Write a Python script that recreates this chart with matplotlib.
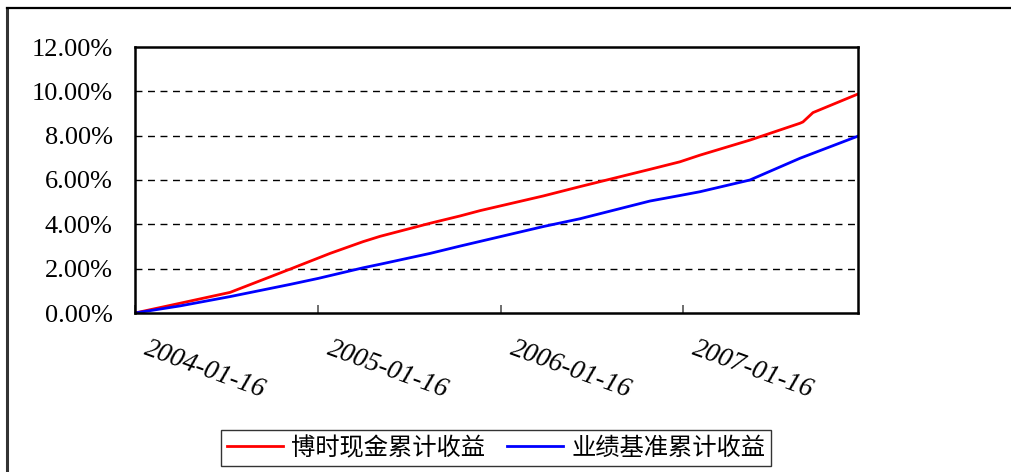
import matplotlib
matplotlib.use("Agg")
import matplotlib.pyplot as plt
import matplotlib.transforms as mtransforms
from matplotlib.lines import Line2D
import numpy as np
import pandas as pd

# ---- data ----
fund_dates = ["2004-01-16", "2004-04-15", "2004-07-24", "2004-11-21", "2005-02-09",
              "2005-04-16", "2005-05-20", "2005-08-28", "2005-10-27", "2005-12-06",
              "2006-04-11", "2006-06-23", "2006-11-10", "2007-01-09", "2007-02-18",
              "2007-05-29", "2007-09-06", "2007-09-12", "2007-10-02", "2007-12-31"]
fund_values = [0.00, 0.44, 0.93, 1.98, 2.69,
               3.22, 3.46, 4.05, 4.38, 4.62,
               5.28, 5.70, 6.48, 6.82, 7.12,
               7.80, 8.56, 8.62, 9.04, 9.88]

bench_dates = ["2004-01-16", "2004-04-15", "2004-07-24", "2004-11-21", "2005-01-16",
               "2005-04-16", "2005-05-20", "2005-08-28", "2005-10-27", "2006-04-11",
               "2006-06-23", "2006-11-10", "2007-01-09", "2007-02-18", "2007-05-29",
               "2007-09-06", "2007-12-31"]
bench_values = [0.00, 0.32, 0.74, 1.29, 1.56,
                2.04, 2.20, 2.69, 3.02, 3.90,
                4.25, 5.05, 5.30, 5.47, 6.00,
                6.98, 7.98]

series_names = ["博时现金累计收益", "业绩基准累计收益"]
xtick_labels = ["2004-01-16", "2005-01-16", "2006-01-16", "2007-01-16"]
ytick_values = [0, 2, 4, 6, 8, 10, 12]

# ---- figure ----
W, H = 1011, 472
fig = plt.figure(figsize=(W / 100, H / 100), dpi=100)
fig.patch.set_facecolor("white")

# outer frame (left and top edges)
fig.add_artist(Line2D([7 / W, 7 / W], [0, 1 - 8 / H], transform=fig.transFigure,
                      color="#333333", lw=2.2))
fig.add_artist(Line2D([7 / W, 1], [1 - 8 / H, 1 - 8 / H], transform=fig.transFigure,
                      color="black", lw=1.6))

ax = fig.add_axes([135 / W, 1 - 313 / H, (858 - 135) / W, (313 - 47) / H])

fd = pd.to_datetime(fund_dates)
bd = pd.to_datetime(bench_dates)
ax.plot(fd, np.array(fund_values) / 100, color="#FF0000", lw=2.0,
        label=series_names[0])
ax.plot(bd, np.array(bench_values) / 100, color="#0000FF", lw=2.0,
        label=series_names[1])

ax.set_xlim(pd.Timestamp("2004-01-16"), pd.Timestamp("2007-12-31"))
ax.set_ylim(0, 0.12)

ax.set_yticks([v / 100 for v in ytick_values])
ax.set_yticklabels([f"{v:.2f}%" for v in ytick_values],
                   fontfamily="Liberation Serif", fontsize=19)
ax.tick_params(axis="y", length=0, pad=16)

xt = pd.to_datetime(xtick_labels)
ax.set_xticks(xt)
ax.set_xticklabels(xtick_labels, fontfamily="Liberation Serif", fontsize=19.5,
                   rotation=-20, ha="left", va="top", style="italic")
ax.tick_params(axis="x", direction="in", length=6, width=1.2, color="#555555", pad=17)
offset = mtransforms.ScaledTranslation(6 / 100, 0, fig.dpi_scale_trans)
for lab in ax.get_xticklabels():
    lab.set_transform(lab.get_transform() + offset)

for v in ytick_values[1:-1]:
    ax.axhline(v / 100, color="black", lw=1.0, ls=(0, (5, 4)), zorder=0)

for s in ax.spines.values():
    s.set_color("black")
    s.set_linewidth(1.8)

leg = fig.legend(loc="center", bbox_to_anchor=(496 / W, 1 - 448 / H), ncol=2,
                 prop={"family": ["Noto Sans CJK SC", "DejaVu Sans"], "size": 17.5},
                 frameon=True, fancybox=False, edgecolor="black", handlelength=2.3,
                 handletextpad=0.35, columnspacing=0.9, borderpad=0.22,
                 borderaxespad=0)
leg.get_frame().set_linewidth(1.0)

fig.savefig("out.png", dpi=100, facecolor="white")
